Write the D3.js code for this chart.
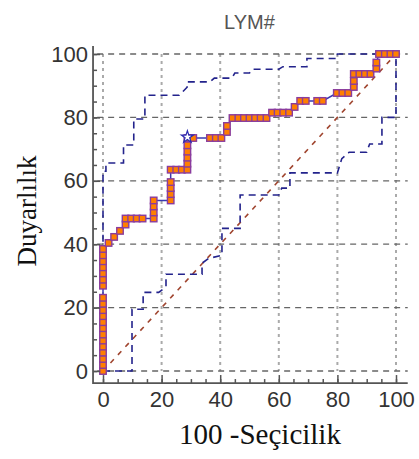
<!DOCTYPE html>
<html>
<head>
<meta charset="utf-8">
<script src="https://cdn.jsdelivr.net/npm/d3@7"></script>
<style>
  html, body { margin: 0; padding: 0; background: #fff; }
</style>
</head>
<body>
<div id="chart"></div>
<script>
var titleText = 'LYM#',
    xTitle = '100 -Seçicilik',
    yTitle = 'Duyarlılık';

var xTicks = [0, 20, 40, 60, 80, 100],
    yTicks = [0, 20, 40, 60, 80, 100],
    minorTicks = [0, 5, 10, 15, 20, 25, 30, 35, 40, 45, 50, 55, 60, 65, 70, 75, 80, 85, 90, 95, 100];

// ROC points: [100 - specificity, sensitivity]
var rocCurve = [
  [0, 0], [0, 1.9], [0, 3.8], [0, 5.8], [0, 7.7], [0, 9.6], [0, 11.5], [0, 13.5], [0, 15.4], [0, 17.3],
  [0, 19.2], [0, 21.2], [0, 23.1], [0, 26.9], [0, 28.8], [0, 30.8], [0, 32.7], [0, 34.6], [0, 36.5], [0, 38.5],
  [1.9, 40.4], [3.8, 42.3], [5.8, 44.2], [7.7, 46.2], [7.7, 48.1], [9.6, 48.1], [11.5, 48.1], [13.5, 48.1],
  [17.3, 48.1], [17.3, 50], [17.3, 51.9], [17.3, 53.8],
  [23.1, 53.8], [23.1, 55.8], [23.1, 57.7], [23.1, 59.6],
  [23.1, 63.5], [25, 63.5], [26.9, 63.5], [28.8, 63.5],
  [28.8, 65.4], [28.8, 67.3], [28.8, 69.2], [28.8, 71.2], [28.8, 73.5],
  [30.8, 73.5], [36.5, 73.5], [38.5, 73.5], [40.4, 73.5],
  [42.3, 75.4], [42.3, 77.3], [44.2, 79.8], [46.2, 79.8], [48.1, 79.8], [50, 79.8], [51.9, 79.8], [53.8, 79.8], [55.8, 79.8],
  [57.7, 81.5], [59.6, 81.5], [61.5, 81.5], [63.5, 81.5],
  [65.4, 83.3], [67.3, 85.2], [69.2, 85.2],
  [73.1, 85.2], [75, 85.2],
  [79.8, 87.7], [81.7, 87.7], [83.7, 87.7],
  [85.6, 89.6], [85.6, 91.5], [85.6, 93.7], [87.5, 93.7], [89.4, 93.7],
  [91.3, 93.7], [93.3, 95.4], [93.3, 97.3],
  [94.2, 100], [96.2, 100], [98.1, 100], [100, 100]
];

var upperBand = [
  [0, 37], [0, 63], [1, 63], [1, 65.6], [7, 65.6], [7, 71.3], [10.5, 71.3], [10.5, 79.5],
  [14.3, 79.5], [14.3, 87], [26, 87], [28.7, 89.5], [28.7, 91.2], [36.5, 91.2], [38, 92.4],
  [44, 92.4], [45, 94], [50, 94], [51, 95.2], [60, 95.2], [61.4, 96], [69.6, 96],
  [69.6, 98.6], [80, 98.6], [80, 100], [100, 100]
];

var lowerBand = [
  [0, 0], [9.9, 0], [9.9, 19.5], [13.7, 19.5], [13.7, 24.8], [19, 24.8], [21.5, 26.5],
  [21.5, 30.5], [33.8, 30.5], [33.8, 34], [36, 35.5], [40.6, 36.5], [40.6, 45], [46.8, 45],
  [46.8, 55.5], [60, 55.5], [61, 57.7], [63.8, 57.7], [63.8, 62.5], [80, 62.5], [81.5, 67],
  [84, 69], [90, 69], [91, 71.6], [95.2, 71.6], [95.2, 80], [100, 80], [100, 100]
];

var chanceLine = [[0, 0], [100, 100]];
var optimalPoint = [[28.8, 73.8]];

var width = 419, height = 459;
var tickFont = '"Liberation Sans", Arial, sans-serif',
    titleFont = '"Liberation Serif", "Times New Roman", serif',
    axisColor = '#555',
    labelColor = '#333';

var svg = d3.select('#chart').append('svg')
    .attr('width', width)
    .attr('height', height);

var x = d3.scaleLinear().domain([0, 100]).range([103, 396]),
    y = d3.scaleLinear().domain([0, 100]).range([371, 54]);

// axis lines sit a bit outside the data range
var axisX = x(-3.4), axisY = y(-3.8);

// grid
svg.append('g').attr('class', 'vgrid')
    .selectAll('line').data(xTicks).enter().append('line')
    .attr('x1', function (d) { return x(d); })
    .attr('x2', function (d) { return x(d); })
    .attr('y1', y(100))
    .attr('y2', y(0))
    .attr('stroke', '#aaa')
    .attr('stroke-width', 2)
    .attr('stroke-dasharray', '3,4');

svg.append('g').attr('class', 'hgrid')
    .selectAll('line').data(yTicks).enter().append('line')
    .attr('x1', x(-2))
    .attr('x2', x(104))
    .attr('y1', function (d) { return y(d); })
    .attr('y2', function (d) { return y(d); })
    .attr('stroke', '#666')
    .attr('stroke-width', 1.3)
    .attr('stroke-dasharray', '6,5');

var line = d3.line()
    .x(function (d) { return x(d[0]); })
    .y(function (d) { return y(d[1]); });

// reference diagonal
svg.append('path')
    .attr('d', line(chanceLine))
    .attr('fill', 'none')
    .attr('stroke', '#a0452f')
    .attr('stroke-width', 1.6)
    .attr('stroke-dasharray', '5,6');

// confidence bands
[upperBand, lowerBand].forEach(function (band) {
    svg.append('path')
        .attr('d', line(band))
        .attr('fill', 'none')
        .attr('stroke', '#23238c')
        .attr('stroke-width', 1.6)
        .attr('stroke-dasharray', '7,5');
});

// ROC curve
svg.append('path')
    .attr('d', line(rocCurve))
    .attr('fill', 'none')
    .attr('stroke', '#3a3ab0')
    .attr('stroke-width', 1.5);

var sq = 6.5;
svg.append('g').attr('class', 'markers')
    .selectAll('rect').data(rocCurve).enter().append('rect')
    .attr('x', function (d) { return x(d[0]) - sq / 2; })
    .attr('y', function (d) { return y(d[1]) - sq / 2; })
    .attr('width', sq)
    .attr('height', sq)
    .attr('fill', '#ff7f00')
    .attr('stroke', '#8a3c9e')
    .attr('stroke-width', 1.4);

svg.append('g').attr('class', 'optimal')
    .selectAll('path').data(optimalPoint).enter().append('path')
    .attr('d', d3.symbol().type(d3.symbolStar).size(45))
    .attr('transform', function (d) { return 'translate(' + x(d[0]) + ',' + y(d[1]) + ')'; })
    .attr('fill', '#fff')
    .attr('stroke', '#2b2bb0')
    .attr('stroke-width', 1.2);

// axes
var yAxis = svg.append('g')
    .attr('transform', 'translate(' + axisX + ',0)')
    .call(d3.axisLeft(y).tickValues(yTicks).tickSizeInner(-7).tickSizeOuter(0).tickPadding(5));
yAxis.select('.domain').remove();
yAxis.append('g')
    .call(d3.axisLeft(y).tickValues(minorTicks).tickSize(-4).tickFormat(''))
    .select('.domain').remove();

var xAxis = svg.append('g')
    .attr('transform', 'translate(0,' + axisY + ')')
    .call(d3.axisBottom(x).tickValues(xTicks).tickSizeInner(-8).tickSizeOuter(0).tickPadding(8));
xAxis.select('.domain').remove();
xAxis.append('g')
    .call(d3.axisBottom(x).tickValues(minorTicks).tickSize(-4).tickFormat(''))
    .select('.domain').remove();

svg.selectAll('.tick line')
    .attr('stroke', axisColor)
    .attr('stroke-width', 1.5);
svg.selectAll('.tick text')
    .attr('fill', labelColor)
    .style('font-family', tickFont)
    .style('font-size', '22px');

svg.append('path')
    .attr('d', 'M' + axisX + ',' + y(102.5) + 'V' + axisY + 'H' + x(104))
    .attr('fill', 'none')
    .attr('stroke', axisColor)
    .attr('stroke-width', 1.8);

// titles
svg.append('text')
    .attr('x', (x(0) + x(100)) / 2)
    .attr('y', 29)
    .attr('text-anchor', 'middle')
    .attr('fill', '#555')
    .style('font-family', tickFont)
    .style('font-size', '20px')
    .text(titleText);

svg.append('text')
    .attr('x', 260)
    .attr('y', 444)
    .attr('text-anchor', 'middle')
    .attr('fill', '#111')
    .style('font-family', titleFont)
    .style('font-size', '29px')
    .text(xTitle);

svg.append('text')
    .attr('transform', 'translate(36,211) rotate(-90)')
    .attr('text-anchor', 'middle')
    .attr('fill', '#111')
    .style('font-family', titleFont)
    .style('font-size', '27px')
    .text(yTitle);
</script>
</body>
</html>
